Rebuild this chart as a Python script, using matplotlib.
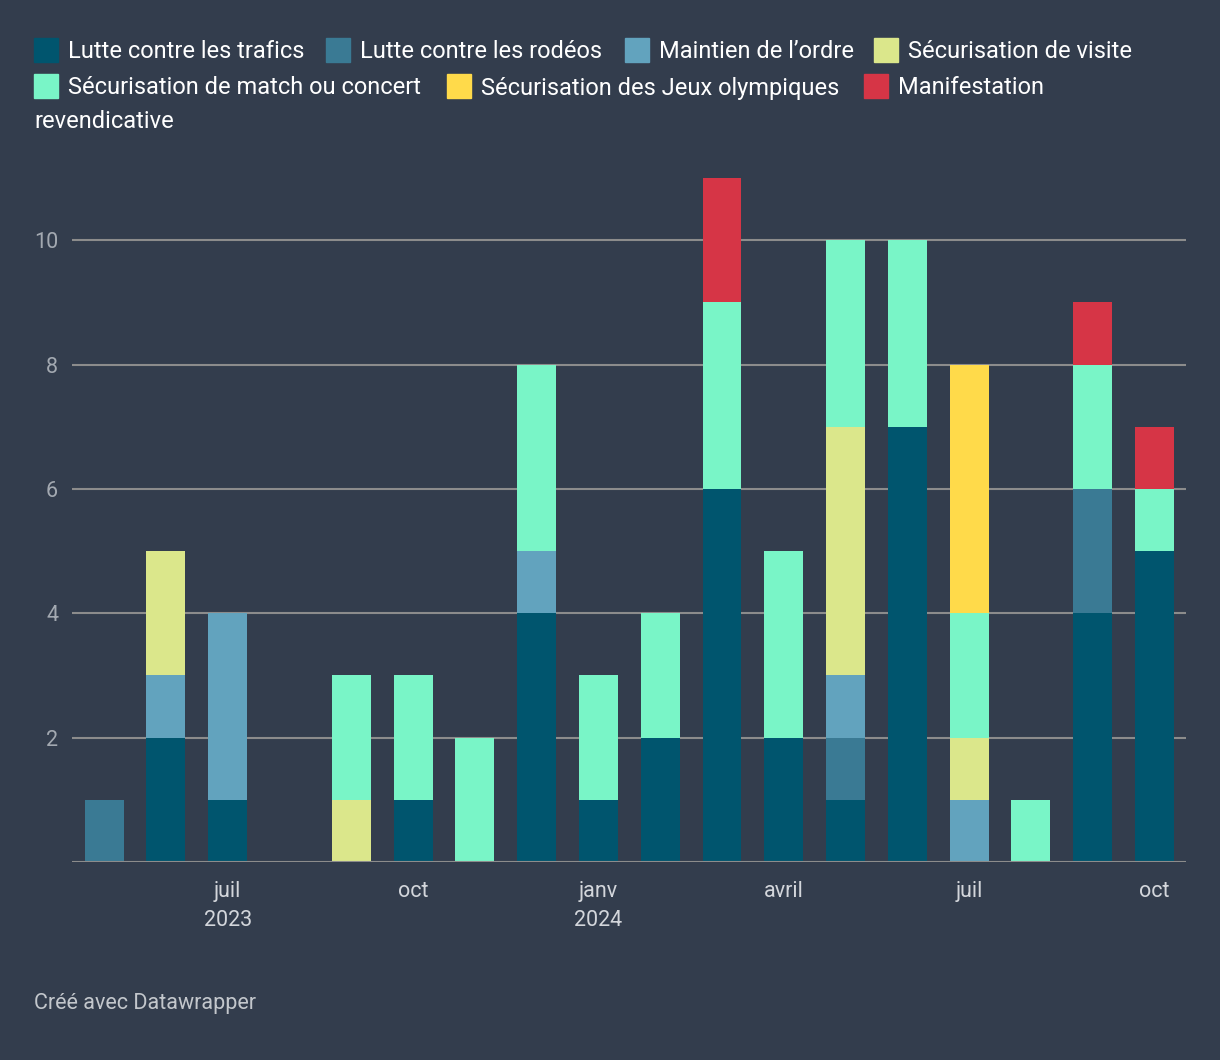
import matplotlib
matplotlib.use("Agg")
import matplotlib.pyplot as plt
from matplotlib.patches import Rectangle
import numpy as np

plt.rcParams['font.family'] = ['Roboto', 'DejaVu Sans']

months = ["mai 2023", "juin 2023", "juil 2023", "août 2023", "sept 2023", "oct 2023",
          "nov 2023", "déc 2023", "janv 2024", "févr 2024", "mars 2024", "avril 2024",
          "mai 2024", "juin 2024", "juil 2024", "août 2024", "sept 2024", "oct 2024"]

trafics  = [0, 2, 1, 0, 0, 1, 0, 4, 1, 2, 6, 2, 1, 7, 0, 0, 4, 5]
rodeos   = [1, 0, 0, 0, 0, 0, 0, 0, 0, 0, 0, 0, 1, 0, 0, 0, 2, 0]
ordre    = [0, 1, 3, 0, 0, 0, 0, 1, 0, 0, 0, 0, 1, 0, 1, 0, 0, 0]
visite   = [0, 2, 0, 0, 1, 0, 0, 0, 0, 0, 0, 0, 4, 0, 1, 0, 0, 0]
match    = [0, 0, 0, 0, 2, 2, 2, 3, 2, 2, 3, 3, 3, 3, 2, 1, 2, 1]
jo       = [0, 0, 0, 0, 0, 0, 0, 0, 0, 0, 0, 0, 0, 0, 4, 0, 0, 0]
manif    = [0, 0, 0, 0, 0, 0, 0, 0, 0, 0, 2, 0, 0, 0, 0, 0, 1, 1]

series_names = ["Lutte contre les trafics", "Lutte contre les rodéos", "Maintien de l’ordre",
                "Sécurisation de visite", "Sécurisation de match ou concert",
                "Sécurisation des Jeux olympiques", "Manifestation revendicative"]
series_values = [trafics, rodeos, ordre, visite, match, jo, manif]
colors = ["#00556e", "#3a7a94", "#62a3be", "#dbe78b", "#79f5c7", "#ffda4a", "#d63546"]

xtick_idx = [2, 5, 8, 11, 14, 17]
xtick_labels = ["juil\n2023", "oct", "janv\n2024", "avril", "juil", "oct"]
ytick_vals = [2, 4, 6, 8, 10]

BG = "#333d4d"
W, H = 1220, 1060
fig = plt.figure(figsize=(W / 100, H / 100), dpi=100, facecolor=BG)

def fx(px):
    return px / W

def fy(py):
    return 1 - py / H

ax = fig.add_axes([fx(72), fy(862), fx(1186) - fx(72), fy(178) - fy(862)])
ax.set_facecolor(BG)
for s in ax.spines.values():
    s.set_visible(False)

x = np.arange(len(months))
bottom = np.zeros(len(months))
for name, vals, c in zip(series_names, series_values, colors):
    v = np.array(vals, dtype=float)
    ax.bar(x, v, width=0.63, bottom=bottom, color=c, zorder=2, linewidth=0)
    bottom += v

for yv in ytick_vals:
    ax.axhline(yv, color="#8c8c8c", lw=1.5, zorder=1)
ax.axhline(0, color="#8c8c8c", lw=1.5, zorder=3)

ax.set_xlim(-0.52, 17.51)
ax.set_ylim(0, 11)
ax.set_yticks(ytick_vals)
ax.set_yticklabels([str(v) for v in ytick_vals], fontsize=15.5, color="#a3a9b1")
ax.set_xticks(xtick_idx)
ax.set_xticklabels(xtick_labels, fontsize=15.5, color="#d3d6db", linespacing=1.5)
ax.tick_params(axis='y', length=0, pad=10)
ax.tick_params(axis='x', length=0, pad=14)

# Legend (manual layout)
legend_items = [
    (34, 50, 0), (326, 50, 1), (625, 50, 2), (874, 50, 3),
    (34, 86, 4), (447, 86, 5), (864, 86, 6),
]
for px, py, i in legend_items:
    fig.patches.append(Rectangle((fx(px), fy(py + 12)), fx(24), 24 / H,
                                 transform=fig.transFigure, color=colors[i]))
    label = series_names[i]
    if i == 6:
        label = "Manifestation"
    fig.text(fx(px + 34), fy(py + 2), label, fontsize=17, color="#ffffff",
             va="center", ha="left")
fig.text(fx(34), fy(122), "revendicative", fontsize=17, color="#ffffff",
         va="center", ha="left")

fig.text(fx(34), fy(1003), "Créé avec Datawrapper", fontsize=15.5, color="#c3c7cc",
         va="center", ha="left")

fig.savefig("out.png", dpi=100, facecolor=BG)
